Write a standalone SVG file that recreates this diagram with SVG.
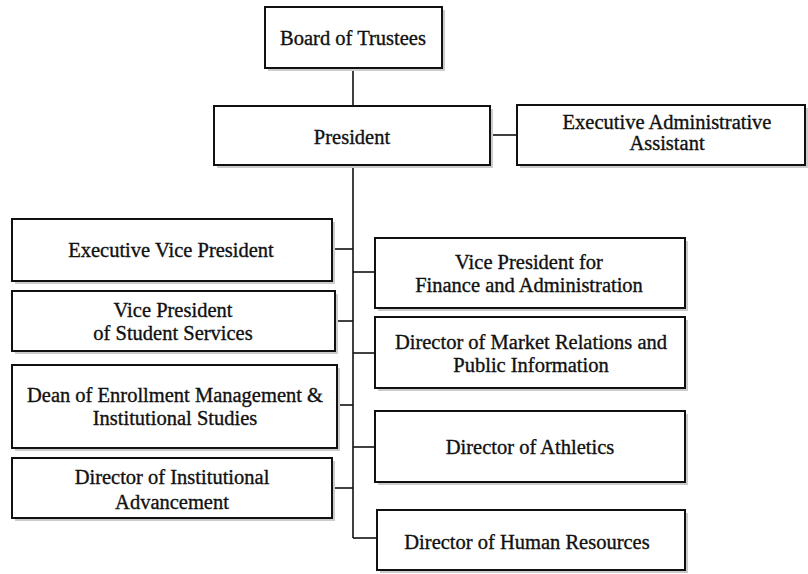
<svg xmlns="http://www.w3.org/2000/svg" width="808" height="574" viewBox="0 0 808 574">
<style>
.box{fill:#fff;stroke:#111;stroke-width:2}
.sh{fill:#cccccc}
.t{font-family:"Liberation Serif","Times New Roman",serif;font-size:20.5px;fill:#111;stroke:#111;stroke-width:0.35;text-anchor:middle}
.c{fill:none;stroke:#111;stroke-width:1.6}
</style>
<rect width="808" height="574" fill="#fff"/>
<g id="connectors">
<path class="c" d="M353 68V107"/>
<path class="c" d="M490 135H517"/>
<path class="c" d="M353 165V538"/>
<path class="c" d="M332 249H353"/>
<path class="c" d="M335 321H353"/>
<path class="c" d="M337 405H353"/>
<path class="c" d="M332 488H353"/>
<path class="c" d="M353 272H375"/>
<path class="c" d="M353 353H375"/>
<path class="c" d="M353 447H375"/>
<path class="c" d="M353 538H377"/>
</g>
<g id="board"><rect class="sh" x="268" y="10" width="177" height="61"/><rect class="box" x="265" y="7" width="177" height="61"/><text class="t" x="353" y="45">Board of Trustees</text></g>
<g id="president"><rect class="sh" x="217" y="109" width="276" height="59"/><rect class="box" x="214" y="106" width="276" height="59"/><text class="t" x="352" y="144">President</text></g>
<g id="eaa"><rect class="sh" x="520" y="108" width="288" height="60"/><rect class="box" x="517" y="105" width="288" height="60"/><text class="t" x="667" y="129">Executive Administrative</text><text class="t" x="667" y="150">Assistant</text></g>
<g id="evp"><rect class="sh" x="15" y="222" width="320" height="62"/><rect class="box" x="12" y="219" width="320" height="62"/><text class="t" x="171" y="257">Executive Vice President</text></g>
<g id="vpss"><rect class="sh" x="15" y="294" width="323" height="60"/><rect class="box" x="12" y="291" width="323" height="60"/><text class="t" x="173" y="317">Vice President</text><text class="t" x="173" y="340">of Student Services</text></g>
<g id="dean"><rect class="sh" x="15" y="368" width="325" height="83"/><rect class="box" x="12" y="365" width="325" height="83"/><text class="t" x="175" y="402">Dean of Enrollment Management &amp;</text><text class="t" x="175" y="425">Institutional Studies</text></g>
<g id="dia"><rect class="sh" x="15" y="461" width="320" height="60"/><rect class="box" x="12" y="458" width="320" height="60"/><text class="t" x="172" y="484">Director of Institutional</text><text class="t" x="172" y="509">Advancement</text></g>
<g id="vpfa"><rect class="sh" x="378" y="241" width="310" height="70"/><rect class="box" x="375" y="238" width="310" height="70"/><text class="t" x="529" y="269">Vice President for</text><text class="t" x="529" y="292">Finance and Administration</text></g>
<g id="dmr"><rect class="sh" x="378" y="320" width="310" height="71"/><rect class="box" x="375" y="317" width="310" height="71"/><text class="t" x="531" y="349">Director of Market Relations and</text><text class="t" x="531" y="372">Public Information</text></g>
<g id="athletics"><rect class="sh" x="378" y="414" width="310" height="71"/><rect class="box" x="375" y="411" width="310" height="71"/><text class="t" x="530" y="454">Director of Athletics</text></g>
<g id="hr"><rect class="sh" x="380" y="513" width="308" height="60"/><rect class="box" x="377" y="510" width="308" height="60"/><text class="t" x="527" y="549">Director of Human Resources</text></g>
</svg>
